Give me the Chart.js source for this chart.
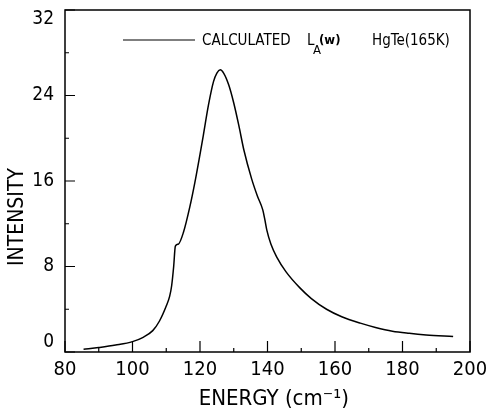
<!DOCTYPE html>
<html>
<head>
<meta charset="utf-8">
<script src="https://cdn.jsdelivr.net/npm/chart.js@4.4.1/dist/chart.umd.min.js"></script>
<style>
  html, body { margin: 0; padding: 0; background: #fff; }
  #wrap { width: 490px; height: 412px; position: relative; }
</style>
</head>
<body>
<div id="wrap"><canvas id="c"></canvas></div>
<script>
/* ---------- data ---------- */
const energy = [85.5, 90, 95, 100, 103, 106, 108, 110, 111, 111.6, 112.2, 112.7, 113.6, 115.1,
  117, 118.5, 120, 121, 122.5, 124, 125, 126, 127, 128.5, 130, 131.5, 133, 135.3, 137,
  138.6, 139.2, 139.8, 141, 142.7, 145.5, 149.6, 153, 157.5, 162, 167.5, 172, 177, 182, 187, 195];
const intensity = [0.25, 0.42, 0.65, 0.97, 1.35, 2.0, 2.9, 4.3, 5.2, 6.2, 8.0, 9.9, 10.1, 11.2,
  13.6, 15.9, 18.5, 20.3, 23.1, 25.3, 26.1, 26.4, 26.1, 25.0, 23.3, 21.2, 18.9, 16.2, 14.6,
  13.3, 12.4, 11.4, 10.1, 8.9, 7.5, 6.0, 5.0, 4.0, 3.3, 2.7, 2.3, 1.95, 1.75, 1.6, 1.45];

const xMajor = [80, 100, 120, 140, 160, 180, 200];
const xMinor = [90, 110, 130, 150, 170, 190];
const yMajor = [0, 8, 16, 24, 32];
const yMinor = [4, 12, 20, 28];

const FONT = '"DejaVu Sans Condensed", "Liberation Sans Narrow", "DejaVu Sans", sans-serif';

/* ---------- frame, inward ticks and legend ---------- */
const framePlugin = {
  id: "frame",
  afterDraw(chart) {
    const { ctx, chartArea: a, scales: { x, y } } = chart;
    ctx.save();
    ctx.strokeStyle = "#000";
    ctx.lineWidth = 1.5;
    ctx.strokeRect(a.left, a.top, a.right - a.left, a.bottom - a.top);

    ctx.lineWidth = 1.2;
    ctx.beginPath();
    xMajor.forEach(v => { const px = x.getPixelForValue(v); ctx.moveTo(px, a.bottom); ctx.lineTo(px, a.bottom - 11); });
    xMinor.forEach(v => { const px = x.getPixelForValue(v); ctx.moveTo(px, a.bottom); ctx.lineTo(px, a.bottom - 4); });
    yMajor.forEach(v => { const py = y.getPixelForValue(v); ctx.moveTo(a.left, py); ctx.lineTo(a.left + 10, py); });
    yMinor.forEach(v => { const py = y.getPixelForValue(v); ctx.moveTo(a.left, py); ctx.lineTo(a.left + 4, py); });
    ctx.stroke();

    // legend
    const ly = a.top + 30;
    const lx = a.left + 58;
    ctx.lineWidth = 1.2;
    ctx.beginPath();
    ctx.moveTo(lx, ly);
    ctx.lineTo(lx + 72, ly);
    ctx.stroke();

    ctx.fillStyle = "#000";
    ctx.textBaseline = "alphabetic";
    ctx.textAlign = "left";
    ctx.font = `15px ${FONT}`;
    ctx.fillText("CALCULATED", lx + 79, ly + 5);
    ctx.fillText("L", lx + 184, ly + 5);
    ctx.font = `13px ${FONT}`;
    ctx.fillText("A", lx + 190, ly + 14);
    ctx.font = `bold 13px ${FONT}`;
    ctx.fillText("(w)", lx + 196, ly + 4);
    ctx.font = `15px ${FONT}`;
    ctx.fillText("HgTe(165K)", lx + 249, ly + 5);
    ctx.restore();
  }
};

new Chart(document.getElementById("c"), {
  type: "line",
  data: {
    datasets: [{
      data: energy.map((e, i) => ({ x: e, y: intensity[i] })),
      borderColor: "#000",
      borderWidth: 1.5,
      pointRadius: 0,
      fill: false,
      cubicInterpolationMode: "monotone",
    }],
  },
  options: {
    responsive: true,
    maintainAspectRatio: false,
    animation: false,
    events: [],
    layout: { padding: { top: 10, right: 20, left: 0, bottom: 0 } },
    plugins: { legend: { display: false }, tooltip: { enabled: false } },
    scales: {
      x: {
        type: "linear",
        min: 80, max: 200,
        afterBuildTicks: s => { s.ticks = xMajor.map(v => ({ value: v })); },
        afterFit: s => { s.height = 60; s.paddingLeft = 0; s.paddingRight = 0; },
        grid: { display: false, drawTicks: false },
        border: { display: false },
        ticks: { color: "#000", padding: 6, maxRotation: 0, font: { family: FONT, size: 20 } },
        title: {
          display: true,
          text: "  ENERGY (cm\u207B\u00B9)",
          color: "#000",
          padding: { top: 0, bottom: 0 },
          font: { family: FONT, size: 22 },
        },
      },
      y: {
        min: 0, max: 32,
        afterBuildTicks: s => { s.ticks = yMajor.map(v => ({ value: v })); },
        afterFit: s => { s.width = 65; s.paddingTop = 0; s.paddingBottom = 0; },
        grid: { display: false, drawTicks: false },
        border: { display: false },
        ticks: {
          color: "#000",
          padding: 11,
          font: { family: FONT, size: 19, lineHeight: 1.0 },
          callback: v => v === 0 ? ["0", ""] : (v === 32 ? ["", "32"] : String(v)),
        },
        title: {
          display: true,
          text: "INTENSITY            ",
          color: "#000",
          padding: { top: 5, bottom: 0 },
          font: { family: FONT, size: 21 },
        },
      },
    },
  },
  plugins: [framePlugin],
});
</script>
</body>
</html>
